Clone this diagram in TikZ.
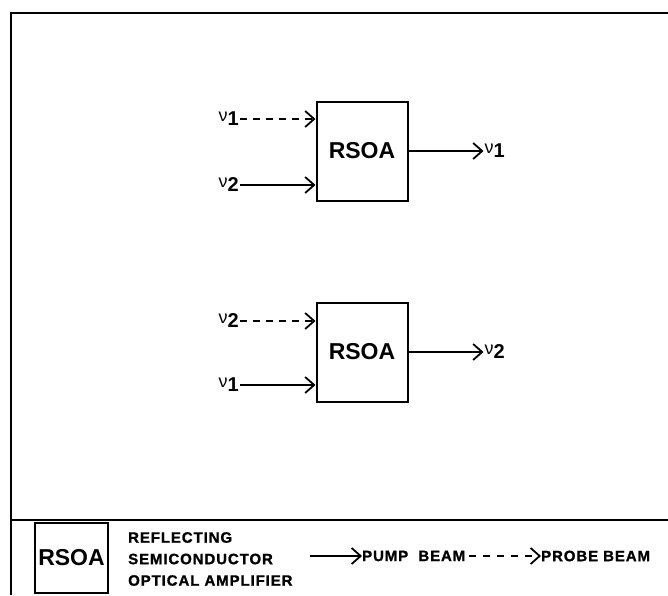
\documentclass[tikz,border=0pt]{standalone}
\usepackage{fontspec}
\setmainfont{Liberation Sans}
\usetikzlibrary{arrows.meta, positioning}

% nu with a bold index, as in the sketch
\newcommand{\nulbl}[1]{\raisebox{4pt}{\fontsize{18}{18}\selectfont ν}{\fontsize{20}{20}\selectfont\bfseries #1}}

\begin{document}
\begin{tikzpicture}[
    x=1pt, y=-1pt,
    rsoa/.style={rectangle, draw, line width=2pt, minimum width=91pt, minimum height=99pt, font=\fontsize{23}{23}\selectfont\bfseries},
    nu/.style={inner sep=1pt},
    pump/.style={line width=2pt, -{Straight Barb[length=9pt, width=16pt, line width=1.8pt]}},
    probe/.style={pump, dash pattern=on 7pt off 6pt},
    legtext/.style={font=\fontsize{15}{21.5}\selectfont\bfseries\addfontfeatures{LetterSpace=6, FakeBold=1.2}, align=left, inner sep=0pt}
]
    \useasboundingbox (0,0) rectangle (668,595);

    % frame and divider
    \draw[line width=2.2pt] (668,13) -- (11,13) -- (11,595);
    \draw[line width=1.8pt] (11,520) -- (668,520);

    % first amplifier
    \node[rsoa] (amp_1) at (362,151) {RSOA};
    \node[nu, anchor=east] (in_1a) at (240,119) {\nulbl{1}};
    \node[nu, anchor=east] (in_1b) at (240,185) {\nulbl{2}};
    \node[nu, right=75pt of amp_1] (out_1) {\nulbl{1}};
    \draw[probe] (in_1a.east) -- (in_1a.east -| amp_1.west);
    \draw[pump] (in_1b.east) -- (in_1b.east -| amp_1.west);
    \draw[pump] (amp_1.east) -- (out_1.west);

    % second amplifier
    \node[rsoa] (amp_2) at (362,352) {RSOA};
    \node[nu, anchor=east] (in_2a) at (240,321) {\nulbl{2}};
    \node[nu, anchor=east] (in_2b) at (240,385) {\nulbl{1}};
    \node[nu, right=75pt of amp_2] (out_2) {\nulbl{2}};
    \draw[probe] (in_2a.east) -- (in_2a.east -| amp_2.west);
    \draw[pump] (in_2b.east) -- (in_2b.east -| amp_2.west);
    \draw[pump] (amp_2.east) -- (out_2.west);

    % legend
    \node[rsoa, minimum width=73pt, minimum height=70pt] (key) at (71.5,558) {RSOA};
    \node[legtext, anchor=west] (key_txt) at (128,559) {REFLECTING\\SEMICONDUCTOR\\OPTICAL AMPLIFIER};
    \coordinate (pump_start) at (310,556);
    \node[legtext, anchor=west] (pump_lbl) at (362,556) {PUMP\ \ BEAM};
    \node[legtext, anchor=west] (probe_lbl) at (541,556) {PROBE BEAM};
    \draw[pump] (pump_start) -- (pump_lbl.west);
    \draw[probe, dash pattern=on 7pt off 7pt] ([xshift=4pt]pump_lbl.east) -- (probe_lbl.west);
\end{tikzpicture}
\end{document}
